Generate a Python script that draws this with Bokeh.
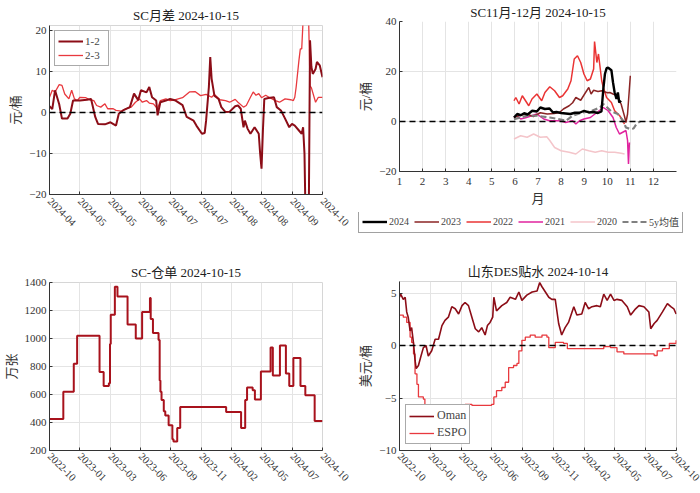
import numpy as np
import pandas as pd
from bokeh.plotting import figure
from bokeh.models import Range1d, FixedTicker, Span, Legend, LegendItem
from bokeh.layouts import row, column
from bokeh.embed import file_html
from bokeh.resources import INLINE

SERIF = "'Liberation Serif', 'Noto Sans CJK SC', serif"

# ---------------- data: SC month spreads ----------------
d12 = ["2024-04-01","2024-04-03","2024-04-05","2024-04-08","2024-04-10","2024-04-14","2024-04-16","2024-04-18","2024-04-23","2024-04-28",
       "2024-05-01","2024-05-04","2024-05-06","2024-05-11","2024-05-15","2024-05-19","2024-05-21","2024-05-24","2024-05-29",
       "2024-06-01","2024-06-04","2024-06-06","2024-06-10","2024-06-12","2024-06-14","2024-06-17","2024-06-18","2024-06-20","2024-06-24","2024-06-27",
       "2024-07-01","2024-07-06","2024-07-09","2024-07-14","2024-07-16","2024-07-20","2024-07-22","2024-07-23","2024-07-25","2024-07-26","2024-07-27","2024-07-29",
       "2024-08-01","2024-08-03","2024-08-06","2024-08-09","2024-08-13","2024-08-15","2024-08-17","2024-08-19","2024-08-20","2024-08-22","2024-08-24","2024-08-27","2024-08-30","2024-08-31",
       "2024-09-01","2024-09-02","2024-09-03","2024-09-06","2024-09-10","2024-09-12","2024-09-15","2024-09-18","2024-09-21","2024-09-23","2024-09-25","2024-09-28","2024-09-30",
       "2024-10-01","2024-10-02","2024-10-03","2024-10-05","2024-10-06","2024-10-07","2024-10-08","2024-10-10","2024-10-11","2024-10-13","2024-10-15"]
v12 = [1.5,0.8,5.4,2.0,-1.5,-1.5,-0.3,2.9,2.9,3.1,
       3.3,-1.1,-2.8,-2.9,-2.4,-3.2,-0.3,0.5,1.3,
       4.6,3.0,5.4,4.9,6.2,3.7,2.9,-0.7,2.5,2.9,3.3,
       2.9,1.8,-1.1,-2.0,-3.2,-5.2,-5.0,-2.0,6.2,13.5,8.2,4.1,
       3.3,1.3,0.1,0.2,1.5,1.7,0.9,-3.6,-2.0,-4.0,-5.2,-3.6,-5.2,-10.0,
       -13.7,-4.4,3.3,3.5,3.7,1.3,0.5,-1.5,-3.6,-2.8,-3.2,-4.4,-5.2,
       -3.6,-10.0,-30.0,-30.0,17.6,11.1,9.4,10.6,12.3,11.5,8.6]
d23 = ["2024-04-01","2024-04-03","2024-04-05","2024-04-08","2024-04-10","2024-04-12","2024-04-15","2024-04-17","2024-04-19","2024-04-21","2024-04-23","2024-04-27","2024-04-30",
       "2024-05-03","2024-05-05","2024-05-08","2024-05-11","2024-05-13","2024-05-17","2024-05-19","2024-05-23","2024-05-26","2024-05-30",
       "2024-06-02","2024-06-05","2024-06-07","2024-06-10","2024-06-12","2024-06-15","2024-06-18","2024-06-20","2024-06-24","2024-06-27",
       "2024-07-01","2024-07-06","2024-07-11","2024-07-15","2024-07-19","2024-07-23","2024-07-27","2024-07-29",
       "2024-08-02","2024-08-06","2024-08-09","2024-08-13","2024-08-15","2024-08-19","2024-08-21","2024-08-24","2024-08-26","2024-08-28","2024-08-30",
       "2024-09-01","2024-09-04","2024-09-07","2024-09-11","2024-09-14","2024-09-18","2024-09-22","2024-09-24","2024-09-25","2024-09-26","2024-09-28","2024-09-29","2024-09-30",
       "2024-10-01","2024-10-04","2024-10-05","2024-10-06","2024-10-07","2024-10-10","2024-10-12","2024-10-15"]
v23 = [3.7,5.4,5.0,6.8,6.6,4.5,3.3,5.4,3.3,2.9,3.7,3.6,3.1,
       2.9,1.7,1.3,2.1,0.9,0.9,0.5,0.3,0.9,1.3,
       2.5,3.3,2.5,2.9,2.3,2.1,0.9,2.9,3.3,2.9,
       3.1,3.6,5.0,5.1,4.1,4.4,3.7,4.4,
       3.1,2.9,2.5,3.2,2.5,1.3,1.7,3.7,5.0,4.2,4.6,
       3.6,4.2,3.6,2.9,2.5,3.3,3.1,2.9,3.7,6.2,12.7,15.5,15.5,
       22.5,22.5,22.5,6.5,6.0,2.5,3.7,3.7]
p1_ticklabels = ["2024-04","2024-05","2024-05","2024-06","2024-07","2024-07","2024-08","2024-08","2024-09","2024-10"]

# ---------------- data: SC Nov-Dec spread by year (x = month) ----------------
x2024 = [5.96,6.1,6.25,6.4,6.55,6.75,6.95,7.1,7.3,7.5,7.65,7.8,8.0,8.2,8.4,8.6,8.8,9.0,9.2,9.4,9.6,9.75,9.83,9.9,9.97,10.04,10.18,10.25,10.32,10.4,10.46,10.52,10.6]
y2024 = [1.6,3.0,2.5,3.3,2.8,4.3,4.0,5.6,5.0,5.2,3.6,3.8,3.4,3.2,3.0,3.5,3.5,4.3,3.6,3.8,3.4,4.0,13.0,19.0,21.3,21.5,20.5,15.6,11.6,9.0,11.6,7.6,8.3]
x2023 = [5.96,6.2,6.5,6.8,7.1,7.4,7.7,7.93,8.1,8.35,8.5,8.64,8.85,9.06,9.2,9.3,9.41,9.6,9.76,10.0,10.11,10.25,10.39,10.6,10.75,10.81,10.88,11.0]
y2023 = [1.6,2.5,3.0,2.0,3.5,3.0,3.2,3.6,5.0,6.3,7.5,9.6,8.5,11.6,13.6,11.0,12.5,12.0,12.3,11.5,11.6,11.0,10.5,7.0,2.0,-0.4,3.0,18.3]
x2022 = [5.96,6.04,6.18,6.32,6.46,6.60,6.74,6.95,7.16,7.30,7.51,7.72,7.93,8.07,8.29,8.43,8.57,8.71,8.85,8.99,9.13,9.27,9.41,9.45,9.55,9.62,9.76,9.83,9.97,10.18,10.32,10.54,10.75]
y2022 = [8.3,9.6,7.0,10.3,8.3,6.3,9.0,11.0,8.3,11.6,13.9,12.3,9.6,10.3,13.0,16.3,25.0,26.3,23.6,19.0,16.3,17.0,21.0,32.0,23.6,27.0,16.3,13.6,9.6,7.6,4.3,2.3,-1.0]
x2021 = [5.96,6.1,6.25,6.5,6.95,7.25,7.5,7.95,8.2,8.5,8.64,8.8,8.99,9.27,9.55,9.83,10.04,10.25,10.39,10.53,10.67,10.81,10.88,10.92,10.96]
y2021 = [1.6,2.3,1.0,1.6,3.0,1.0,0.3,0.3,-0.4,0.3,-1.0,0.3,1.0,1.6,3.6,5.6,4.3,1.6,-2.4,-5.0,-4.3,-3.6,-7.6,-17.0,-8.4]
x2020 = [5.96,6.25,6.53,6.81,7.1,7.38,7.51,7.72,8.0,8.35,8.64,8.92,9.2,9.48,9.76,10.04,10.32,10.6,10.75]
y2020 = [-7.0,-5.7,-6.3,-5.0,-6.3,-6.1,-7.6,-10.4,-11.7,-12.3,-13.0,-11.0,-11.7,-12.3,-11.7,-12.3,-12.3,-12.7,-13.0]
x5y = [5.96,6.52,6.95,7.51,7.93,8.21,8.5,8.92,9.34,9.69,9.83,9.9,10.18,10.46,10.67,10.81,11.0,11.14,11.28,11.42]
y5y = [0.9,2.3,2.3,1.6,0.9,0.3,2.3,3.6,4.3,5.6,7.0,6.5,4.0,3.0,0.5,-2.4,-3.0,-2.8,-0.8,0.0]
month_ticks = [1,2,3,4,5,6,7,8,9,10,11,12]
year_names = ["2024", "2023", "2022", "2021", "2020", "5y均值"]

# ---------------- data: SC warehouse receipts ----------------
d_wr = ["2022-10-15","2022-11-21","2022-12-19","2022-12-28","2023-02-26","2023-03-09","2023-03-23","2023-03-26","2023-03-28",
        "2023-04-08","2023-04-15","2023-05-12","2023-06-03","2023-06-20","2023-07-11","2023-07-13","2023-07-19","2023-08-03",
        "2023-08-06","2023-08-08","2023-08-11","2023-08-17","2023-08-21","2023-08-30","2023-09-09","2023-09-12","2023-09-22",
        "2023-09-30","2024-01-31","2024-03-11","2024-03-22","2024-03-27","2024-04-11","2024-04-17","2024-05-03","2024-05-29",
        "2024-06-04","2024-06-23","2024-07-09","2024-07-18","2024-07-29","2024-08-17","2024-08-30","2024-09-24","2024-10-15"]
v_wr = [425,620,820,1020,760,660,680,960,1170,
        1370,1300,1100,1000,1190,1290,1140,1040,990,
        700,620,560,480,450,380,280,265,360,
        510,475,360,560,650,630,565,765,935,
        735,950,750,660,860,660,595,410,410]
long_ticklabels = ["2022-10","2023-01","2023-03","2023-06","2023-09","2023-11","2024-02","2024-05","2024-07","2024-10"]

# ---------------- data: Shandong DES discount ----------------
d_oman = ["2022-10-15","2022-10-18","2022-10-25","2022-10-30","2022-11-03","2022-11-07","2022-11-12","2022-11-16","2022-11-21","2022-11-25","2022-11-28","2022-12-04","2022-12-10","2022-12-17","2022-12-24","2022-12-30",
          "2023-01-08","2023-01-17","2023-01-26","2023-02-04","2023-02-12","2023-02-21","2023-03-02","2023-03-11","2023-03-20","2023-03-29",
          "2023-04-06","2023-04-15","2023-04-24","2023-05-03","2023-05-12","2023-05-20","2023-05-29","2023-06-04","2023-06-11","2023-06-18","2023-06-21","2023-06-28",
          "2023-07-12","2023-07-25","2023-08-03","2023-08-17","2023-08-26","2023-09-03","2023-09-16","2023-09-30",
          "2023-10-13","2023-10-20","2023-10-26","2023-11-04","2023-11-13","2023-11-21","2023-11-30","2023-12-09","2023-12-17","2023-12-26",
          "2024-01-04","2024-01-18","2024-01-26","2024-02-08","2024-02-17","2024-02-26","2024-03-06","2024-03-19","2024-03-28",
          "2024-04-06","2024-04-15","2024-04-24","2024-05-03","2024-05-11","2024-05-24","2024-06-07","2024-06-16","2024-06-29",
          "2024-07-08","2024-07-21","2024-08-03","2024-08-08","2024-08-17","2024-08-25","2024-09-08","2024-09-21","2024-09-30","2024-10-08","2024-10-14"]
v_oman = [4.6,4.9,4.4,4.6,3.2,2.7,1.4,1.7,0.2,-1.4,-2.2,-1.9,-1.1,-0.2,0.0,-1.0,
          -0.5,0.6,0.6,1.9,2.4,2.7,3.7,3.5,3.0,3.8,
          4.1,3.8,2.7,1.6,1.3,1.7,1.0,1.9,2.2,2.7,4.6,3.3,
          3.8,4.1,4.6,4.4,5.1,4.3,4.8,5.1,
          5.2,6.0,5.6,5.1,4.6,4.4,4.4,2.1,1.0,1.7,
          2.2,3.7,2.9,3.0,4.1,3.5,3.7,3.8,3.7,
          4.9,4.3,4.9,4.3,4.4,4.3,3.7,2.9,3.5,
          3.8,3.7,3.2,1.6,2.1,2.4,3.2,4.0,3.7,3.5,3.0]
d_espo = ["2022-10-15","2022-10-25","2022-11-03","2022-11-12","2022-11-16","2022-11-21","2022-11-25","2022-11-30","2022-12-04","2022-12-17","2022-12-21","2022-12-30",
          "2023-01-22","2023-02-26","2023-03-29","2023-04-06","2023-04-24","2023-06-15","2023-06-21","2023-06-28","2023-07-12","2023-07-21","2023-07-30","2023-08-12",
          "2023-08-21","2023-08-26","2023-09-03","2023-09-12","2023-09-25","2023-10-08","2023-10-26","2023-11-08","2023-11-13","2023-11-21","2023-11-30","2023-12-22",
          "2024-01-01","2024-02-14","2024-04-06","2024-04-24","2024-05-11","2024-05-29","2024-06-25","2024-07-21","2024-08-17","2024-08-25","2024-09-08","2024-09-26","2024-10-14"]
v_espo = [2.9,2.7,2.2,0.8,0.3,-0.8,-2.7,-3.7,-4.9,-5.1,-5.9,-6.2,
          -6.4,-6.2,-5.7,-5.6,-5.7,-5.6,-4.9,-4.3,-4.0,-3.5,-2.1,-1.9,
          -1.7,-0.5,0.5,0.8,1.0,0.8,1.0,0.8,-0.2,-0.2,0.3,0.2,
          -0.3,-0.3,-0.1,-0.2,-0.6,-0.8,-0.8,-0.8,-0.95,-0.5,-0.3,0.2,0.5]

DARK = "#8c0d17"
RED = "#e8393e"


def mk(width, height, **kw):
    return figure(width=width, height=height, output_backend="svg",
                  toolbar_location=None, tools="", **kw)


def style(p, title, standoff):
    p.title.text = title
    p.title.text_font = SERIF
    p.title.text_font_size = "13px"
    p.title.text_font_style = "normal"
    p.title.text_color = "#222222"
    p.title.align = "center"
    p.title.standoff = standoff
    p.title.offset = 0
    p.background_fill_color = "white"
    p.border_fill_color = "white"
    p.outline_line_color = "#d6d6d6"
    p.grid.grid_line_color = "#e4e4e4"
    p.grid.grid_line_width = 1
    for ax in p.axis:
        ax.axis_line_color = "#333333"
        ax.major_tick_line_color = "#333333"
        ax.major_tick_in = 3
        ax.major_tick_out = 0
        ax.minor_tick_line_color = None
        ax.major_label_text_font = SERIF
        ax.major_label_text_font_size = "11px"
        ax.major_label_text_color = "#333333"
        ax.axis_label_text_font = SERIF
        ax.axis_label_text_font_size = "13px"
        ax.axis_label_text_font_style = "normal"
        ax.axis_label_text_color = "#333333"
        ax.major_label_standoff = 3
        ax.axis_label_standoff = 3


def date_axis(p, start, end, labels, standoff=5, size="10.5px"):
    t0 = pd.Timestamp(start).value // 10**6
    t1 = pd.Timestamp(end).value // 10**6
    ticks = [int(round(v)) for v in np.linspace(t0, t1, len(labels))]
    p.xaxis.ticker = FixedTicker(ticks=ticks)
    p.xaxis.major_label_overrides = {t: lab for t, lab in zip(ticks, labels)}
    p.xaxis.major_label_orientation = -np.pi / 4
    p.xaxis.major_label_standoff = standoff
    p.xaxis.major_label_text_font_size = size


def zero_line(p):
    p.add_layout(Span(location=0, dimension="width", line_color="black",
                      line_dash="6 4", line_width=1.6))


# ---------------- panel 1 ----------------
p1 = mk(350, 250, x_axis_type="datetime",
        x_range=Range1d(pd.Timestamp("2024-04-01"), pd.Timestamp("2024-10-15")),
        y_range=Range1d(-20, 21.2),
        min_border_left=45, min_border_right=28, min_border_top=25, min_border_bottom=56)
style(p1, "SC月差 2024-10-15", 6)
date_axis(p1, "2024-04-01", "2024-10-15", p1_ticklabels)
p1.yaxis.ticker = FixedTicker(ticks=[-20, -10, 0, 10, 20])
p1.yaxis.axis_label = "元/桶"
zero_line(p1)
p1.line(pd.to_datetime(d23), v23, line_color=RED, line_width=1.3, legend_label="2-3")
p1.line(pd.to_datetime(d12), v12, line_color=DARK, line_width=2, legend_label="1-2")
lg = p1.legend[0]
lg.items = [lg.items[1], lg.items[0]]
lg.location = "top_left"
lg.margin = 5
lg.padding = 3
lg.spacing = 0
lg.glyph_width = 25
lg.glyph_height = 14
lg.label_height = 14
lg.label_standoff = 2
lg.label_text_font = SERIF
lg.label_text_font_size = "11px"
lg.border_line_color = "#555555"
lg.background_fill_alpha = 1

# ---------------- panel 2 ----------------
series2 = [(x2024, y2024, "black", 2.4, "solid"),
           (x2023, y2023, "#8b2525", 1.5, "solid"),
           (x2022, y2022, "#ea3434", 1.5, "solid"),
           (x2021, y2021, "#e0239e", 1.5, "solid"),
           (x2020, y2020, "#f4c5ca", 1.5, "solid"),
           (x5y, y5y, "#808080", 2.2, "6 3")]

p2 = mk(350, 212, x_range=Range1d(1, 13), y_range=Range1d(-20, 40),
        min_border_left=46, min_border_right=20, min_border_top=21, min_border_bottom=41)
style(p2, "SC11月-12月 2024-10-15", 4)
p2.outline_line_color = None
p2.xaxis.ticker = FixedTicker(ticks=month_ticks)
p2.yaxis.ticker = FixedTicker(ticks=[-20, 0, 20, 40])
p2.xaxis.axis_label = "月"
p2.yaxis.axis_label = "元/桶"
p2.xaxis.major_label_standoff = 6
zero_line(p2)
draw_order = [4, 3, 2, 1, 5, 0]
for i in draw_order:
    xs, ys, c, w, dash = series2[i]
    p2.line(xs, ys, line_color=c, line_width=w, line_dash=dash)

# legend strip for panel 2 (its own small plot so the legend can sit below the axis)
pl = mk(350, 38, x_range=Range1d(1, 13), y_range=Range1d(100, 200),
        min_border_left=0, min_border_right=0, min_border_top=0, min_border_bottom=0,
        x_axis_location=None, y_axis_location=None)
pl.outline_line_color = None
pl.grid.visible = False
pl.background_fill_color = "white"
pl.border_fill_color = "white"
items = []
for (xs, ys, c, w, dash), name in zip(series2, year_names):
    r = pl.line(xs, ys, line_color=c, line_width=w, line_dash=dash)
    items.append(LegendItem(label=name, renderers=[r]))
leg2 = Legend(items=items, orientation="horizontal", location=(8, 17),
              glyph_width=25, glyph_height=13, label_height=13, label_standoff=2,
              spacing=5, padding=3, margin=0,
              label_text_font=SERIF, label_text_font_size="10px",
              border_line_color="#444444", border_line_width=1,
              background_fill_alpha=1)
pl.add_layout(leg2, "center")

# ---------------- panel 3 ----------------
p3 = mk(350, 243, x_axis_type="datetime",
        x_range=Range1d(pd.Timestamp("2022-10-15"), pd.Timestamp("2024-10-15")),
        y_range=Range1d(200, 1400),
        min_border_left=49, min_border_right=24, min_border_top=32, min_border_bottom=43)
style(p3, "SC-仓单 2024-10-15", 5)
date_axis(p3, "2022-10-15", "2024-10-15", long_ticklabels, standoff=4)
p3.yaxis.ticker = FixedTicker(ticks=[200, 400, 600, 800, 1000, 1200, 1400])
p3.yaxis.axis_label = "万张"
p3.step(pd.to_datetime(d_wr), v_wr, mode="after", line_color="#a8121c", line_width=2)

# ---------------- panel 4 ----------------
p4 = mk(350, 243, x_axis_type="datetime",
        x_range=Range1d(pd.Timestamp("2022-10-15"), pd.Timestamp("2024-10-15")),
        y_range=Range1d(-10, 6.1),
        min_border_left=49, min_border_right=24, min_border_top=31, min_border_bottom=43)
style(p4, "山东DES贴水 2024-10-14", 5)
date_axis(p4, "2022-10-15", "2024-10-15", long_ticklabels, standoff=4)
p4.yaxis.ticker = FixedTicker(ticks=[-10, -5, 0, 5])
p4.yaxis.axis_label = "美元/桶"
zero_line(p4)
p4.step(pd.to_datetime(d_espo), v_espo, mode="after", line_color=RED, line_width=1.3, legend_label="ESPO")
p4.line(pd.to_datetime(d_oman), v_oman, line_color=DARK, line_width=1.6, legend_label="Oman")
lg4 = p4.legend[0]
lg4.items = [lg4.items[1], lg4.items[0]]
lg4.location = "bottom_left"
lg4.margin = 6
lg4.padding = 3
lg4.spacing = 2
lg4.glyph_width = 25
lg4.glyph_height = 14
lg4.label_height = 14
lg4.label_standoff = 3
lg4.label_text_font = SERIF
lg4.label_text_font_size = "12px"
lg4.border_line_color = "#555555"
lg4.background_fill_alpha = 1

layout = row(column(p1, p3), column(p2, row(pl), p4))
open("out.html", "w").write(file_html(layout, INLINE))
